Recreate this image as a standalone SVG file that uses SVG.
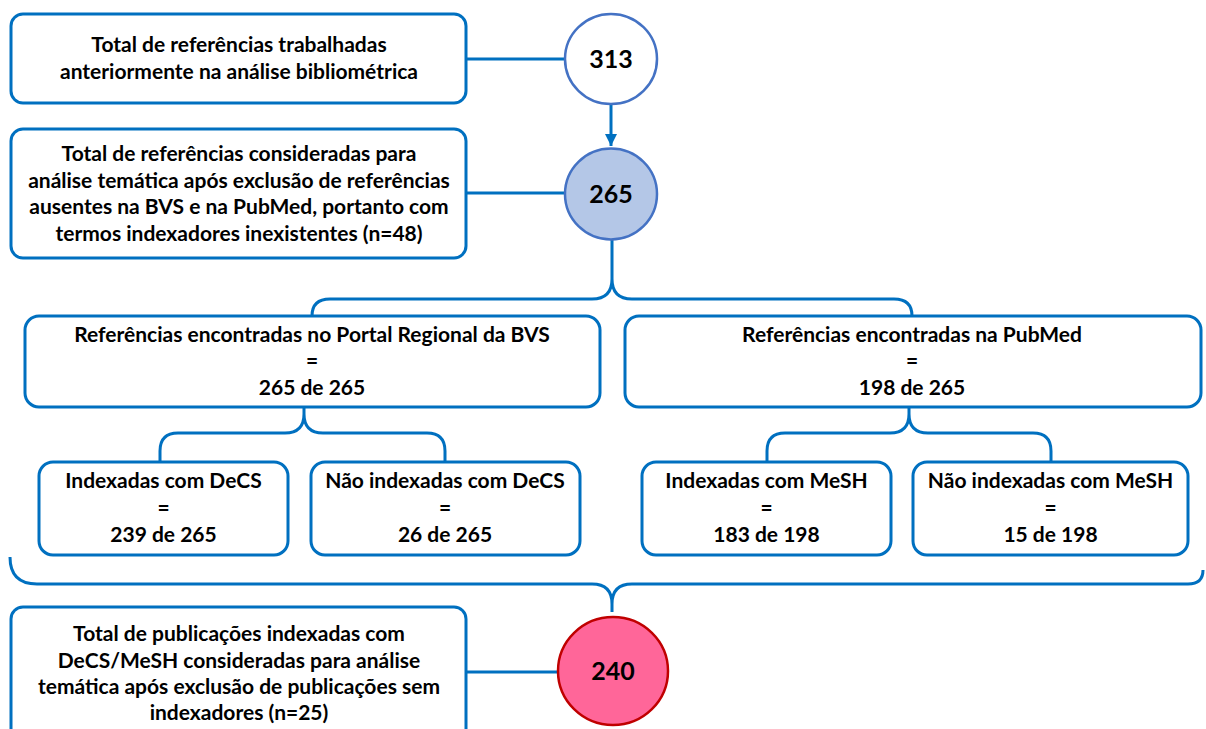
<svg xmlns="http://www.w3.org/2000/svg" width="1206" height="729" viewBox="0 0 1206 729">
<defs>
<style>
.box{fill:#ffffff;stroke:#0070C0;stroke-width:3}
.con{fill:none;stroke:#0070C0;stroke-width:3}
.t{font-family:"Lato","Liberation Sans",sans-serif;font-weight:bold;font-size:21px;fill:#000;text-anchor:middle}
.n{font-family:"Lato","Liberation Sans",sans-serif;font-weight:bold;font-size:25px;fill:#000;text-anchor:middle}
</style>
<marker id="ah" viewBox="0 0 10 10" refX="10" refY="5" markerWidth="4" markerHeight="4" markerUnits="strokeWidth" orient="auto">
<path d="M0,0 L10,5 L0,10 z" fill="#0070C0"/>
</marker>
</defs>
<rect width="1206" height="729" fill="#ffffff"/>
<g id="connectors">
<line class="con" x1="466" y1="59" x2="565" y2="59"/>
<line class="con" x1="611" y1="104" x2="611" y2="146" marker-end="url(#ah)"/>
<line class="con" x1="466" y1="193" x2="565" y2="193"/>
<line class="con" x1="466" y1="672" x2="558" y2="672"/>
<path class="con" d="M612,240 V279 Q612,299 592,299 H330 Q312,299 312,316 M612,279 Q612,299 632,299 H894 Q912,299 912,316"/>
<path class="con" d="M304,407 V414 Q304,433 285,433 H178 Q160,433 160,451 V462 M304,414 Q304,433 323,433 H427 Q445,433 445,451 V462"/>
<path class="con" d="M909,407 V414 Q909,433 890,433 H785 Q767,433 767,451 V462 M909,414 Q909,433 928,433 H1033 Q1051,433 1051,451 V462"/>
<path class="con" d="M10,557 Q10,584 37,584 H592 Q612,584 612,604 V612 M612,604 Q612,584 632,584 H1188 Q1203,584 1203,570"/>
</g>
<g id="n1">
<rect class="box" x="11" y="14" width="455" height="89" rx="12"/>
<text class="t" x="239" y="52">Total de referências trabalhadas</text>
<text class="t" x="239" y="79">anteriormente na análise bibliométrica</text>
</g>
<g id="c313">
<ellipse cx="611" cy="59" rx="46" ry="45" fill="#ffffff" stroke="#4472C4" stroke-width="2.5"/>
<text class="n" x="611" y="68">313</text>
</g>
<g id="n2">
<rect class="box" x="11" y="129" width="455" height="129" rx="12"/>
<text class="t" x="239" y="161">Total de referências consideradas para</text>
<text class="t" x="239" y="188">análise temática após exclusão de referências</text>
<text class="t" x="239" y="214">ausentes na BVS e na PubMed, portanto com</text>
<text class="t" x="239" y="241">termos indexadores inexistentes (n=48)</text>
</g>
<g id="c265">
<ellipse cx="611" cy="194" rx="46" ry="45.5" fill="#B4C7E7" stroke="#4472C4" stroke-width="2.5"/>
<text class="n" x="611" y="203">265</text>
</g>
<g id="n3">
<rect class="box" x="25" y="316" width="575" height="91" rx="14"/>
<text class="t" x="312" y="342">Referências encontradas no Portal Regional da BVS</text>
<text class="t" x="312" y="368">=</text>
<text class="t" x="312" y="395">265 de 265</text>
</g>
<g id="n4">
<rect class="box" x="625" y="316" width="576" height="91" rx="14"/>
<text class="t" x="912" y="342">Referências encontradas na PubMed</text>
<text class="t" x="912" y="368">=</text>
<text class="t" x="912" y="395">198 de 265</text>
</g>
<g id="n5">
<rect class="box" x="39" y="462" width="249" height="93" rx="14"/>
<text class="t" x="163.5" y="488">Indexadas com DeCS</text>
<text class="t" x="163.5" y="515">=</text>
<text class="t" x="163.5" y="542">239 de 265</text>
</g>
<g id="n6">
<rect class="box" x="311" y="462" width="269" height="93" rx="14"/>
<text class="t" x="445" y="488">Não indexadas com DeCS</text>
<text class="t" x="445" y="515">=</text>
<text class="t" x="445" y="542">26 de 265</text>
</g>
<g id="n7">
<rect class="box" x="642" y="462" width="249" height="93" rx="14"/>
<text class="t" x="766.5" y="488">Indexadas com MeSH</text>
<text class="t" x="766.5" y="515">=</text>
<text class="t" x="766.5" y="542">183 de 198</text>
</g>
<g id="n8">
<rect class="box" x="913" y="462" width="275" height="93" rx="14"/>
<text class="t" x="1050.5" y="488">Não indexadas com MeSH</text>
<text class="t" x="1050.5" y="515">=</text>
<text class="t" x="1050.5" y="542">15 de 198</text>
</g>
<g id="n9">
<rect class="box" x="11" y="607" width="455" height="135" rx="12"/>
<text class="t" x="239" y="641">Total de publicações indexadas com</text>
<text class="t" x="239" y="668">DeCS/MeSH consideradas para análise</text>
<text class="t" x="239" y="694">temática após exclusão de publicações sem</text>
<text class="t" x="239" y="720">indexadores (n=25)</text>
</g>
<g id="c240">
<ellipse cx="613" cy="671" rx="55" ry="54" fill="#FF6699" stroke="#C00000" stroke-width="2.5"/>
<text class="n" x="613" y="680">240</text>
</g>
</svg>
